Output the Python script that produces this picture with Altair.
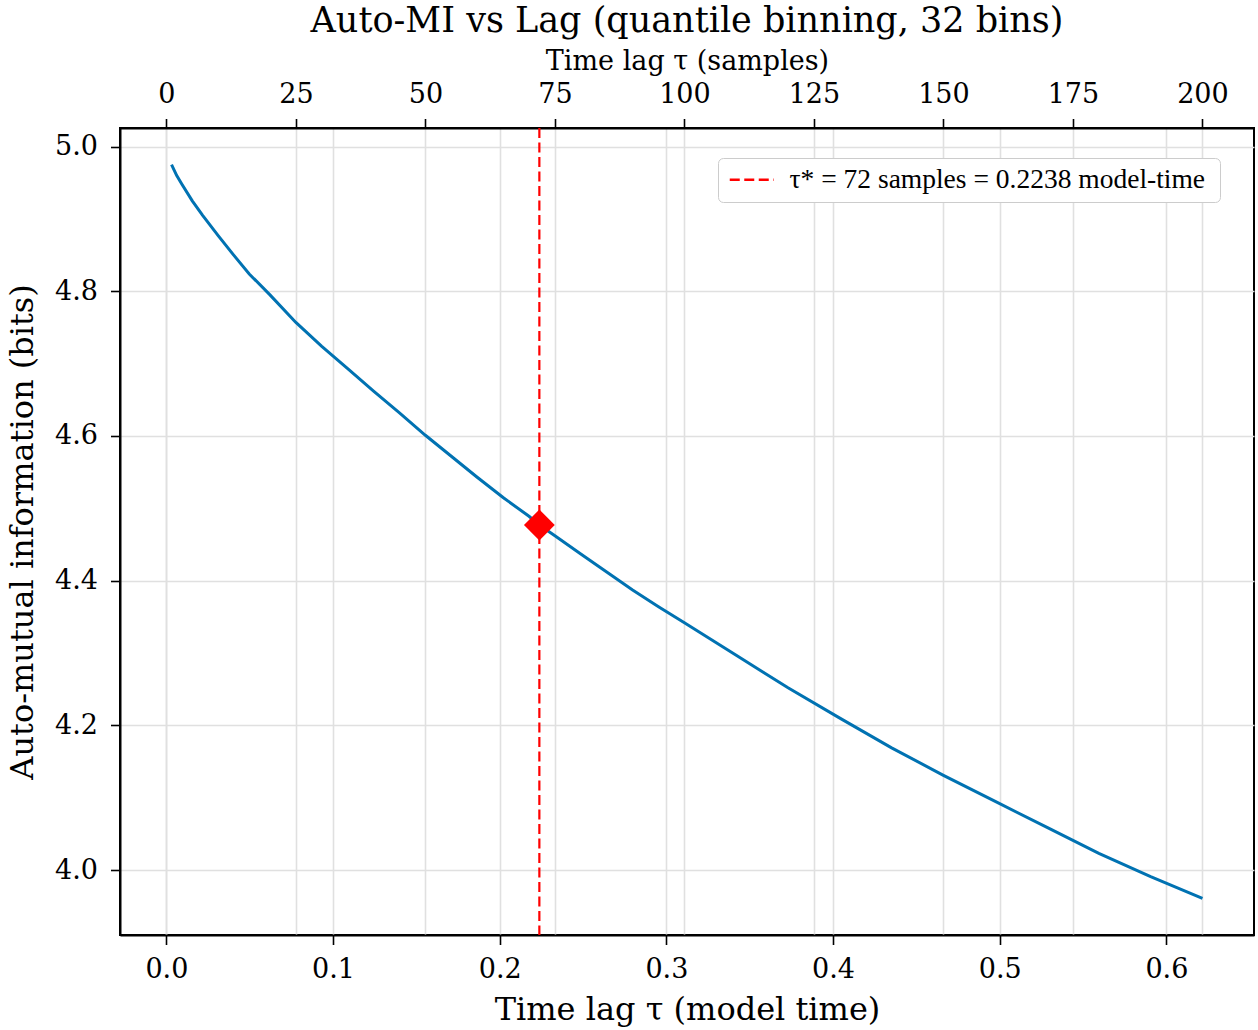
import altair as alt
import pandas as pd

# ---- data ----
samples = [1, 2, 3, 5, 7, 10, 13, 16, 20, 25, 30, 35, 40, 45, 50, 55, 60, 65, 70, 72,
           75, 80, 85, 90, 95, 100, 110, 120, 130, 140, 150, 160, 170, 180, 190, 200]
mi_bits = [4.975, 4.960, 4.948, 4.925, 4.905, 4.877, 4.850, 4.824, 4.795, 4.757,
           4.724, 4.693, 4.662, 4.632, 4.601, 4.572, 4.543, 4.515, 4.489, 4.477,
           4.462, 4.437, 4.412, 4.387, 4.364, 4.342, 4.297, 4.252, 4.210, 4.169,
           4.131, 4.095, 4.059, 4.023, 3.991, 3.961]
TAU_STAR_SAMPLES = 72
TAU_STAR_TIME = 0.2238
MI_AT_TAU_STAR = 4.477
bottom_ticks = [0.0, 0.1, 0.2, 0.3, 0.4, 0.5, 0.6]
top_ticks = [0, 25, 50, 75, 100, 125, 150, 175, 200]
y_ticks = [4.0, 4.2, 4.4, 4.6, 4.8, 5.0]
legend_label = "τ* = 72 samples  = 0.2238 model-time"

DT = TAU_STAR_TIME / TAU_STAR_SAMPLES
df = pd.DataFrame({"sample": samples, "mi": mi_bits})
df["t"] = df["sample"] * DT

# matplotlib-like 5% margins
xmin, xmax = min(samples) * DT, max(samples) * DT
mx = 0.05 * (xmax - xmin)
x_dom = [xmin - mx, xmax + mx]
s_dom = [x_dom[0] / DT, x_dom[1] / DT]
ymin, ymax = min(mi_bits), max(mi_bits)
my = 0.05 * (ymax - ymin)
y_dom = [ymin - my, ymax + my]

FONT = "DejaVu Serif"
xs = alt.Scale(domain=x_dom, nice=False, zero=False)
ys = alt.Scale(domain=y_dom, nice=False, zero=False)

x_axis = alt.Axis(values=bottom_ticks, format=".1f", title="Time lag τ (model time)",
                  orient="bottom", grid=True, labelPadding=12, titlePadding=12,
                  titleFontSize=32)
y_axis = alt.Axis(values=y_ticks, format=".1f", title="Auto-mutual information (bits)",
                  grid=True, labelPadding=13, titlePadding=15, titleFontSize=32)
top_axis = alt.Axis(values=top_ticks, format="d", orient="top", grid=True,
                    title="Time lag τ (samples)", labelPadding=10, titlePadding=5,
                    titleFontSize=27)

line = alt.Chart(df).mark_line(color="#0072B2", strokeWidth=3).encode(
    x=alt.X("t:Q", scale=xs, axis=x_axis),
    y=alt.Y("mi:Q", scale=ys, axis=y_axis),
)

star = pd.DataFrame({"t": [TAU_STAR_TIME], "mi": [MI_AT_TAU_STAR], "label": [legend_label]})

rule = alt.Chart(star).mark_rule(strokeWidth=2.2, strokeDash=[10, 4.5]).encode(
    x=alt.X("t:Q", scale=xs, axis=x_axis),
    color=alt.Color("label:N", scale=alt.Scale(domain=[legend_label], range=["#ff0000"]),
                    legend=alt.Legend(title=None, orient="none", legendX=598, legendY=30,
                                      symbolType="M-2.2,0L2.2,0", symbolDash=[10, 4.5],
                                      symbolStrokeWidth=2.5, symbolSize=400,
                                      symbolOffset=12,
                                      labelFont="Liberation Serif", labelFontSize=27.5,
                                      labelColor="black", labelLimit=0,
                                      strokeColor="#cccccc", fillColor="white",
                                      cornerRadius=5, padding=8, labelOffset=24)),
)

point = alt.Chart(star).mark_point(shape="diamond", filled=True, size=950,
                                   color="#ff0000", opacity=1).encode(
    x=alt.X("t:Q", scale=xs, axis=x_axis),
    y=alt.Y("mi:Q", scale=ys, axis=y_axis),
)

bottom = alt.layer(line, rule, point)

top = alt.Chart(df).mark_line(opacity=0).encode(
    x=alt.X("sample:Q", scale=alt.Scale(domain=s_dom, nice=False, zero=False),
            axis=top_axis),
    y=alt.Y("mi:Q", scale=ys, axis=y_axis),
)

chart = alt.layer(bottom, top).resolve_scale(x="independent").properties(
    width=1134, height=807,
    autosize=alt.AutoSizeParams(type="none"),
    padding={"left": 120, "top": 128, "right": 4, "bottom": 95},
    title=alt.TitleParams("Auto-MI vs Lag (quantile binning, 32 bins)", font=FONT,
                          fontSize=35, fontWeight="normal", color="black", offset=9),
).configure_view(stroke="black", strokeWidth=2).configure_axis(
    labelFont=FONT, labelFontSize=27, labelColor="black",
    titleFont=FONT, titleFontWeight="normal", titleColor="black",
    gridColor="#e0e0e0", gridWidth=1.6,
    domain=True, domainColor="black", domainWidth=2,
    ticks=True, tickColor="black", tickWidth=1.6, tickSize=9.5,
)

chart.save("out.html", embed_options={"renderer": "svg", "actions": False})
